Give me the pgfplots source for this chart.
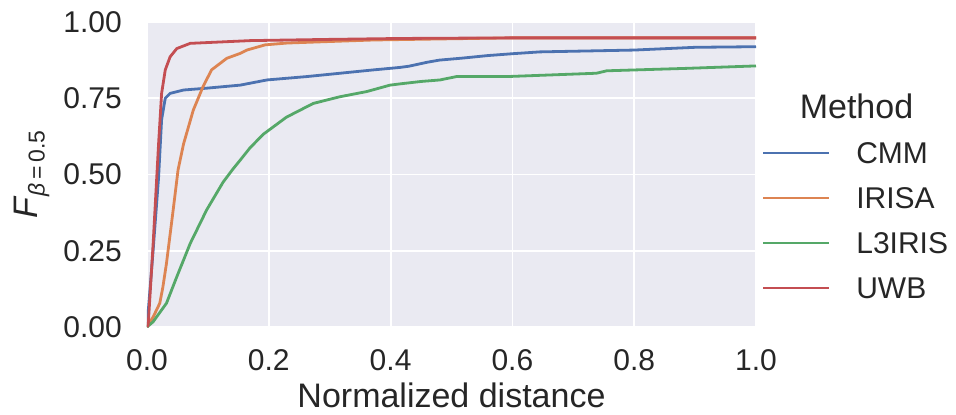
\documentclass[border=0pt]{standalone}
\usepackage{fontspec}
\setmainfont{Liberation Sans}
\usepackage{pgfplots}
\pgfplotsset{compat=1.18}
\definecolor{sbbg}{HTML}{EAEAF2}
\definecolor{sbtext}{HTML}{262626}
\definecolor{sbblue}{HTML}{4C72B0}
\definecolor{sborange}{HTML}{DD8452}
\definecolor{sbgreen}{HTML}{55A868}
\definecolor{sbred}{HTML}{C44E52}
\newcommand{\tickfont}{\fontsize{30bp}{32bp}\selectfont}
\newcommand{\labfont}{\fontsize{34bp}{36bp}\selectfont}

\begin{document}
\begin{tikzpicture}
\useasboundingbox (-147bp,-88bp) rectangle (809bp,327bp);
\begin{axis}[
  at={(0,0)}, anchor=south west,
  scale only axis,
  width=609bp, height=305bp,
  xmin=0, xmax=1, ymin=0, ymax=1,
  xtick={0,0.2,0.4,0.6,0.8,1.0},
  ytick={0,0.25,0.5,0.75,1.0},
  /pgf/number format/assume math mode=true,
  xticklabel style={/pgf/number format/fixed, /pgf/number format/fixed zerofill,
    /pgf/number format/precision=1, anchor=north, inner sep=0pt, yshift=-22bp},
  yticklabel style={/pgf/number format/fixed, /pgf/number format/fixed zerofill,
    /pgf/number format/precision=2, anchor=east, inner sep=0pt, xshift=-25bp},
  ticklabel style={font=\tickfont, text=sbtext},
  axis line style={draw=none},
  tick style={draw=none},
  grid=major,
  major grid style={white, line width=1.8bp},
  axis background/.style={fill=sbbg},
  xlabel={Normalized distance},
  xlabel style={font=\labfont, text=sbtext, inner sep=0pt,
    at={(axis description cs:0.5,-0.264)}, anchor=base},
  ylabel={\textit{F}\raisebox{-0.42ex}{\fontsize{23bp}{23bp}\selectfont\textit{β}\,=\,0.5}},
  ylabel style={font=\labfont, text=sbtext, inner sep=0pt,
    at={(axis description cs:-0.1806,0.5)}, anchor=base},
  legend style={at={(1.0099,0.6066)}, anchor=north west, draw=none, fill=none,
    font=\tickfont, text=sbtext, inner sep=0pt, outer sep=0pt, row sep=23bp,
    nodes={inner sep=0pt, text height=22bp, text depth=0pt}},
  legend cell align=left,
  legend image code/.code={
    \path[draw=none, fill=none] (0bp,-1bp) rectangle (93bp,1bp);
    \draw[#1, line width=2.6bp] (0bp,0bp) -- (66bp,0bp);},
  every axis plot/.append style={line width=2.8bp, line join=round},
]
\addplot[sbblue] coordinates {
(0,0) (0.01,0.25) (0.019,0.49) (0.024,0.68) (0.03,0.75) (0.038,0.766) (0.06,0.777)
(0.098,0.783) (0.153,0.793) (0.197,0.81) (0.262,0.821) (0.317,0.832) (0.372,0.843)
(0.415,0.851) (0.43,0.855) (0.46,0.868) (0.48,0.875) (0.52,0.882) (0.56,0.89)
(0.6,0.896) (0.645,0.902) (0.8,0.908) (0.9,0.917) (1.0,0.919)
};
\addlegendentry{CMM}
\addplot[sborange] coordinates {
(0,0) (0.0104,0.034) (0.021,0.078) (0.026,0.13) (0.032,0.209) (0.043,0.384)
(0.051,0.515) (0.06,0.6) (0.076,0.711) (0.092,0.788) (0.106,0.843) (0.131,0.881)
(0.153,0.897) (0.164,0.908) (0.194,0.925) (0.23,0.931) (0.3,0.936) (0.372,0.941)
(0.5,0.945) (0.6,0.948) (1.0,0.948)
};
\addlegendentry{IRISA}
\addplot[sbgreen] coordinates {
(0,0) (0.01,0.017) (0.032,0.078) (0.049,0.165) (0.071,0.274) (0.098,0.384)
(0.125,0.475) (0.14,0.515) (0.153,0.547) (0.169,0.587) (0.191,0.632) (0.229,0.688)
(0.273,0.733) (0.317,0.755) (0.361,0.772) (0.399,0.793) (0.415,0.797) (0.45,0.805)
(0.481,0.81) (0.508,0.821) (0.59,0.821) (0.738,0.832) (0.755,0.84) (0.886,0.848)
(1.0,0.856)
};
\addlegendentry{L3IRIS}
\addplot[sbred] coordinates {
(0,0) (0.002,0.007) (0.01,0.27) (0.013,0.38) (0.019,0.6) (0.024,0.766) (0.03,0.843)
(0.038,0.886) (0.049,0.913) (0.071,0.93) (0.17,0.939) (0.3,0.943) (0.415,0.946)
(0.6,0.948) (1.0,0.948)
};
\addlegendentry{UWB}
\end{axis}
\node[font=\fontsize{34bp}{36bp}\selectfont, text=sbtext, anchor=base, inner sep=0pt]
  at (709.5bp,208.7bp) {Method};
\end{tikzpicture}
\end{document}
